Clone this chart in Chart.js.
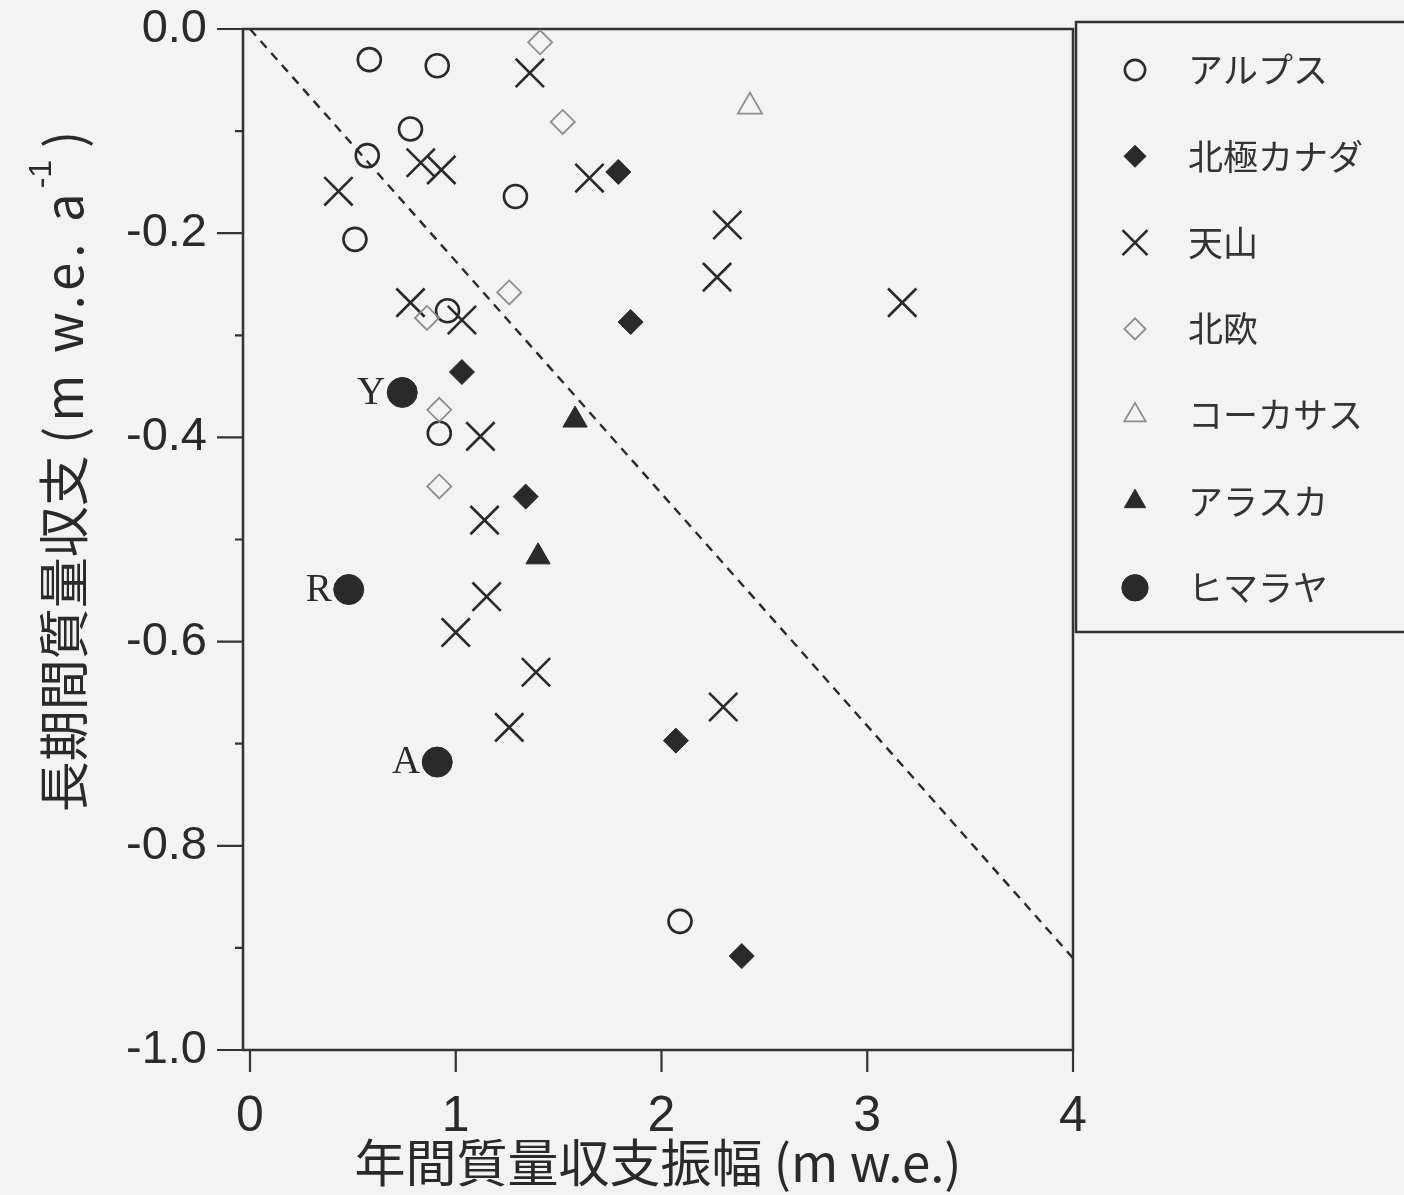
<!DOCTYPE html>
<html lang="ja">
<head>
<meta charset="UTF-8">
<title>年間質量収支振幅と長期間質量収支</title>
<script src="https://cdn.jsdelivr.net/npm/chart.js"></script>
<style>
  html, body { margin: 0; padding: 0; background: #f4f3f4; }
  canvas { display: block; }
</style>
</head>
<body>
<canvas id="chart" width="1404" height="1195"></canvas>
<script>
// x: 年間質量収支振幅 (m w.e.), y: 長期間質量収支 (m w.e. a-1)
const regionNames = ['アルプス', '北極カナダ', '天山', '北欧', 'コーカサス', 'アラスカ', 'ヒマラヤ'];

const alpsX = [0.58, 0.91, 0.78, 0.57, 1.29, 0.51, 0.96, 0.92, 2.09];
const alpsY = [-0.030, -0.036, -0.098, -0.124, -0.164, -0.206, -0.276, -0.396, -0.874];

const canadaX = [1.79, 1.85, 1.03, 1.34, 2.07, 2.39];
const canadaY = [-0.140, -0.287, -0.336, -0.458, -0.697, -0.908];

const tienshanX = [1.36, 0.43, 0.83, 0.93, 1.65, 2.32, 2.27, 3.17, 0.78, 1.03, 1.12, 1.14, 1.15, 1.00, 1.39, 1.26, 2.30];
const tienshanY = [-0.043, -0.159, -0.131, -0.138, -0.146, -0.192, -0.243, -0.268, -0.268, -0.285, -0.399, -0.481, -0.556, -0.591, -0.630, -0.684, -0.664];

const nordicX = [1.41, 1.52, 1.26, 0.86, 0.92, 0.92];
const nordicY = [-0.013, -0.091, -0.258, -0.283, -0.373, -0.448];

const caucasusX = [2.43];
const caucasusY = [-0.076];

const alaskaX = [1.58, 1.40];
const alaskaY = [-0.383, -0.517];

const himalayaX = [0.74, 0.48, 0.91];
const himalayaY = [-0.356, -0.549, -0.718];
const himalayaNames = ['Y', 'R', 'A'];

const refLineX = [0, 4];
const refLineY = [0, -0.91];

const xTicks = [0, 1, 2, 3, 4];
const yTicks = [0, -0.2, -0.4, -0.6, -0.8, -1.0];
const yMinorTicks = [-0.1, -0.3, -0.5, -0.7, -0.9];

const xTitle = '年間質量収支振幅 (m w.e.)';
const yTitleCjk = '長期間質量収支 ';
const yTitleUnit = '(m w.e. a';

const INK = '#2a2a2a';
const GRAY = '#8d8d8d';
const NONE = 'rgba(0,0,0,0)';
const CJK = '"Noto Sans CJK JP", "Noto Sans CJK SC", sans-serif';

const pts = (xs, ys) => xs.map((x, i) => ({ x: x, y: ys[i] }));

function series(i, xs, ys, style, radius, fill, stroke, width) {
  return {
    label: regionNames[i],
    data: pts(xs, ys),
    pointStyle: style,
    pointRadius: radius,
    pointHoverRadius: radius,
    pointBackgroundColor: fill,
    pointBorderColor: stroke,
    pointBorderWidth: width,
    showLine: false
  };
}

const datasets = [
  series(6, himalayaX, himalayaY, 'circle', 15, INK, INK, 1),
  series(5, alaskaX, alaskaY, 'triangle', 14, INK, INK, 1),
  series(4, caucasusX, caucasusY, 'triangle', 14, NONE, GRAY, 1.8),
  series(3, nordicX, nordicY, 'rectRot', 12, NONE, GRAY, 1.8),
  series(2, tienshanX, tienshanY, 'crossRot', 20, NONE, INK, 2.6),
  series(1, canadaX, canadaY, 'rectRot', 12.5, INK, INK, 1),
  series(0, alpsX, alpsY, 'circle', 11.5, NONE, INK, 2.6),
  {
    label: 'ref',
    data: pts(refLineX, refLineY),
    showLine: true,
    borderColor: INK,
    borderWidth: 2.4,
    borderDash: [9, 7],
    pointRadius: 0,
    fill: false
  }
];

const paper = {
  id: 'paper',
  beforeDraw(chart) {
    const ctx = chart.ctx;
    ctx.save();
    ctx.fillStyle = '#f4f3f4';
    ctx.fillRect(0, 0, chart.width, chart.height);
    ctx.restore();
  },
  beforeDatasetsDraw(chart) {
    const ctx = chart.ctx;
    const a = chart.chartArea;
    const sx = chart.scales.x, sy = chart.scales.y;
    ctx.save();
    ctx.strokeStyle = '#333';
    ctx.lineWidth = 2.5;
    ctx.strokeRect(a.left, a.top, a.right - a.left, a.bottom - a.top);
    ctx.lineWidth = 2.2;
    ctx.beginPath();
    yTicks.forEach(v => {
      const p = sy.getPixelForValue(v);
      ctx.moveTo(a.left - 26, p); ctx.lineTo(a.left, p);
    });
    yMinorTicks.forEach(v => {
      const p = sy.getPixelForValue(v);
      ctx.moveTo(a.left - 8, p); ctx.lineTo(a.left, p);
    });
    xTicks.forEach(v => {
      const p = sx.getPixelForValue(v);
      ctx.moveTo(p, a.bottom); ctx.lineTo(p, a.bottom + 22);
    });
    ctx.stroke();
    ctx.restore();
  },
  afterDraw(chart) {
    const ctx = chart.ctx;
    const a = chart.chartArea;
    ctx.save();
    ctx.fillStyle = INK;

    // Y / R / A labels next to the Himalaya points
    const meta = chart.getDatasetMeta(0);
    ctx.font = '39px "Liberation Serif", serif';
    ctx.textAlign = 'right';
    ctx.textBaseline = 'middle';
    meta.data.forEach((el, i) => {
      ctx.fillText(himalayaNames[i], el.x - 17, el.y + 1);
    });

    // x title
    ctx.font = '51px ' + CJK;
    ctx.textAlign = 'center';
    ctx.fillText(xTitle, (a.left + a.right) / 2, 1163);

    // y title: CJK part, unit with wider spacing, superscript -1
    ctx.translate(64, (a.top + a.bottom) / 2 - 68);
    ctx.rotate(-Math.PI / 2);
    ctx.textAlign = 'left';
    const mainFont = '51px ' + CJK;
    const supFont = '32px "Liberation Sans", sans-serif';
    const unitSpacing = '5px';
    ctx.font = mainFont;
    const wCjk = ctx.measureText(yTitleCjk).width;
    ctx.letterSpacing = unitSpacing;
    const wUnit = ctx.measureText(yTitleUnit).width;
    ctx.letterSpacing = '0px';
    const wTail = ctx.measureText(')').width;
    ctx.font = supFont;
    const wSup = ctx.measureText('-1').width;
    let u = -(wCjk + wUnit + wSup + wTail + 12) / 2;
    ctx.font = mainFont;
    ctx.fillText(yTitleCjk, u, 0);
    u += wCjk;
    ctx.letterSpacing = unitSpacing;
    ctx.fillText(yTitleUnit, u, 0);
    ctx.letterSpacing = '0px';
    u += wUnit;
    ctx.font = supFont;
    ctx.fillText('-1', u, -22);
    u += wSup + 12;
    ctx.font = mainFont;
    ctx.fillText(')', u, 0);
    ctx.restore();

    // legend box
    ctx.save();
    ctx.strokeStyle = '#333';
    ctx.lineWidth = 2.5;
    ctx.strokeRect(1076, 22, 340, 610);
    const order = [6, 5, 4, 3, 2, 1, 0];
    order.forEach((di, row) => {
      const ds = datasets[di];
      const cy = 70 + row * 86.3;
      ctx.fillStyle = ds.pointBackgroundColor;
      ctx.strokeStyle = ds.pointBorderColor;
      ctx.lineWidth = ds.pointBorderWidth;
      if (Chart.helpers && Chart.helpers.drawPoint) {
        Chart.helpers.drawPoint(ctx, {
          pointStyle: ds.pointStyle,
          rotation: 0,
          radius: ds.pointRadius * 0.88,
          borderWidth: ds.pointBorderWidth
        }, 1135, cy);
      }
      ctx.fillStyle = '#333';
      ctx.font = '35px ' + CJK;
      ctx.textAlign = 'left';
      ctx.textBaseline = 'middle';
      ctx.fillText(ds.label, 1188, cy);
    });
    ctx.restore();
  }
};

new Chart(document.getElementById('chart'), {
  type: 'scatter',
  data: { datasets: datasets },
  options: {
    responsive: false,
    animation: false,
    events: [],
    layout: { padding: { top: 29, right: 331, left: 0, bottom: 0 } },
    plugins: {
      legend: { display: false },
      tooltip: { enabled: false }
    },
    scales: {
      x: {
        type: 'linear',
        min: -0.034,
        max: 4,
        grid: { display: false },
        border: { display: false },
        afterBuildTicks: s => { s.ticks = xTicks.map(v => ({ value: v })); },
        afterFit: s => { s.height = 145; s.paddingLeft = 0; s.paddingRight = 0; },
        ticks: {
          autoSkip: false,
          maxRotation: 0,
          padding: 29,
          color: INK,
          font: { family: 'Liberation Sans', size: 50 },
          callback: v => String(v)
        }
      },
      y: {
        type: 'linear',
        min: -1,
        max: 0,
        grid: { display: false },
        border: { display: false },
        afterBuildTicks: s => { s.ticks = yTicks.map(v => ({ value: v })); },
        afterFit: s => { s.width = 243; s.paddingTop = 0; s.paddingBottom = 0; },
        ticks: {
          autoSkip: false,
          padding: 28,
          color: INK,
          font: { family: 'Liberation Sans', size: 47 },
          callback: v => v.toFixed(1)
        }
      }
    }
  },
  plugins: [paper]
});
</script>
</body>
</html>
